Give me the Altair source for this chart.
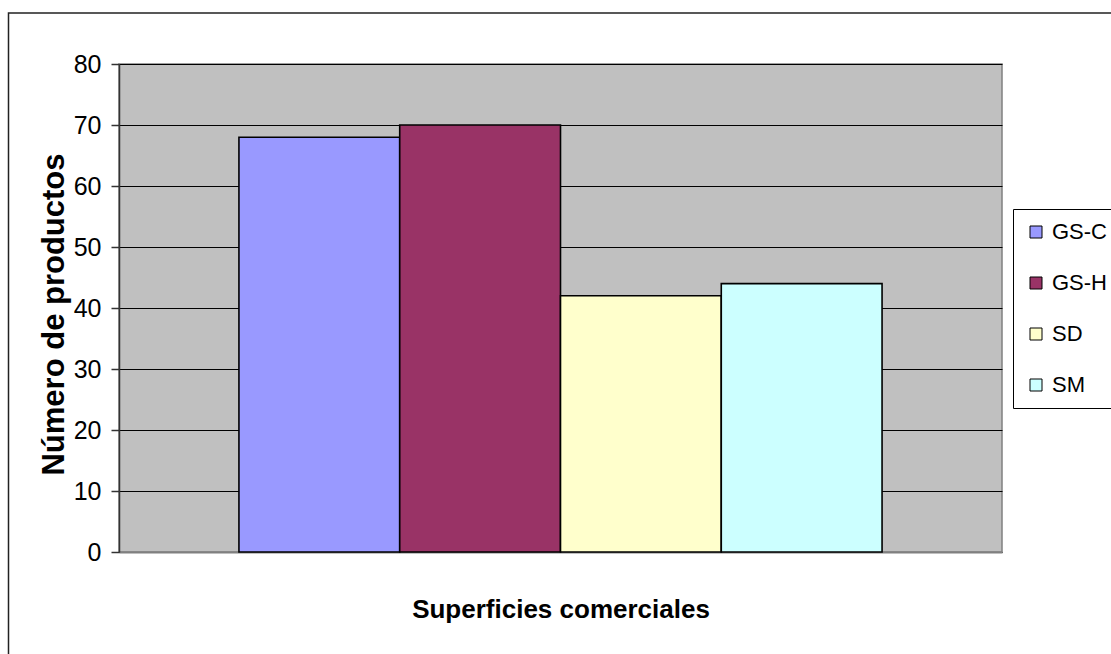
import altair as alt
import pandas as pd

# Number of products per retail surface type
series = ["GS-C", "GS-H", "SD", "SM"]
products = [68, 70, 42, 44]
colors = ["#9999FF", "#993366", "#FFFFCC", "#CCFFFF"]
y_ticks = [0, 10, 20, 30, 40, 50, 60, 70, 80]

df = pd.DataFrame({"serie": series, "productos": products})

SANS = "Liberation Sans, Arial, Helvetica"

bars = (
    alt.Chart(df)
    .mark_bar(stroke="black", strokeWidth=1.6)
    .encode(
        x=alt.X(
            "serie:N",
            sort=series,
            scale=alt.Scale(paddingInner=0, paddingOuter=0.746),
            axis=alt.Axis(
                title="Superficies comerciales",
                labels=False,
                ticks=False,
                grid=False,
                domainColor="#808080",
                domainWidth=2,
                titleFont=SANS,
                titleFontSize=26,
                titleFontWeight="bold",
                titleColor="black",
                titleY=65,
                titleBaseline="alphabetic",
            ),
        ),
        y=alt.Y(
            "productos:Q",
            scale=alt.Scale(domain=[0, 80], nice=False),
            axis=alt.Axis(
                title="Número de productos",
                values=y_ticks,
                grid=True,
                gridColor="black",
                gridWidth=1,
                domainColor="#333333",
                domainWidth=1.5,
                tickColor="#333333",
                tickWidth=1.5,
                tickSize=8,
                labelFont=SANS,
                labelFontSize=25,
                labelColor="black",
                labelPadding=10,
                titleFont=SANS,
                titleFontSize=31,
                titleFontWeight="bold",
                titleColor="black",
                titleAngle=270,
                titleX=-56,
                titleY=250,
                titleBaseline="alphabetic",
            ),
        ),
        fill=alt.Fill(
            "serie:N",
            sort=series,
            scale=alt.Scale(domain=series, range=colors),
            legend=alt.Legend(
                title=None,
                orient="none",
                legendX=894,
                legendY=145,
                padding=12,
                rowPadding=29,
                symbolType="square",
                symbolSize=144,
                symbolStrokeColor="black",
                symbolStrokeWidth=1,
                symbolOpacity=1,
                labelFont=SANS,
                labelFontSize=22,
                labelColor="black",
                labelOffset=5,
                strokeColor="black",
                fillColor="white",
            ),
        ),
    )
)

# Outer frame around the whole chart
frame = (
    alt.Chart(alt.Data(values=[{}]))
    .mark_rect(fill=None, stroke="#222222", strokeWidth=1.5)
    .encode(
        x=alt.value(-110.5),
        x2=alt.value(1010),
        y=alt.value(-51),
        y2=alt.value(620),
    )
)

chart = (
    alt.layer(frame, bars)
    .properties(
        width=883,
        height=488,
        autosize=alt.AutoSizeParams(type="none"),
        padding={"left": 119, "top": 64, "right": 109, "bottom": 102},
        background="white",
    )
    .configure_view(fill="#C0C0C0", stroke="#808080", strokeWidth=1.5)
)

chart.save("out.html", embed_options={"renderer": "svg", "actions": False})
